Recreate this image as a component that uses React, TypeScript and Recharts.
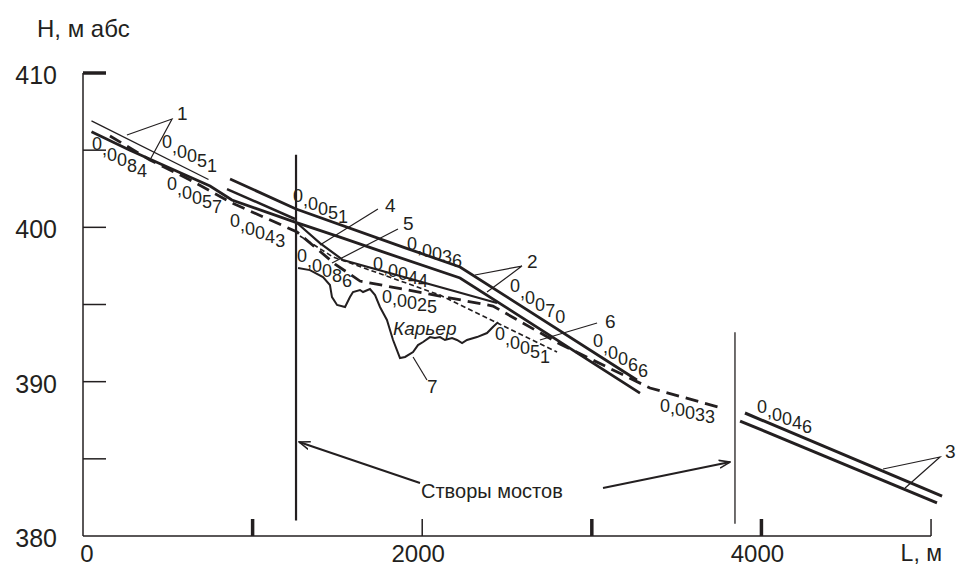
import React from 'react'
import { LineChart, Line, XAxis, YAxis, ReferenceLine, ReferenceDot } from 'recharts'

const INK = '#231f20'
const FONT = '"Liberation Sans", Arial, sans-serif'

// [distance L, m ; elevation H, m abs]
type Pt = [number, number]

const LINE_1_THIN: Pt[] = [[50, 406.9], [740, 403.1]]
const LINE_1_THICK: Pt[] = [
  [50, 406.2], [277, 405.0], [590, 403.45], [749, 402.68], [878, 401.77],
  [1250, 400.34], [1515, 399.37], [1751, 398.47], [2223, 396.72], [3284, 389.26],
]
const LINE_2_UPPER: Pt[] = [[867, 403.13], [1256, 401.19], [1887, 398.72], [2223, 397.43], [3266, 390.11]]
const LINE_GAP: Pt[] = [[849, 402.48], [1250, 400.54]]
const LINE_4: Pt[] = [[1262, 400.28], [1397, 398.98], [1533, 397.88], [2441, 395.1]]
const LINE_5: Pt[] = [[1279, 399.44], [1474, 398.08], [2105, 395.61], [2795, 391.92]]
const LINE_6: Pt[] = [
  [159, 405.92], [395, 404.36], [631, 403.07], [878, 401.58], [1262, 399.7],
  [1486, 397.62], [1633, 396.52], [2417, 394.9], [2812, 392.44], [3343, 389.59], [3768, 388.29],
]
const QUARRY: Pt[] = [
  [1268, 397.36], [1338, 397.23], [1415, 396.78], [1456, 396.26], [1468, 395.48], [1498, 394.97],
  [1545, 394.84], [1574, 395.48], [1592, 395.81], [1633, 395.94], [1651, 395.81], [1692, 396.0],
  [1722, 395.61], [1751, 394.84], [1792, 394.0], [1828, 392.7], [1851, 392.05], [1869, 391.53],
  [1899, 391.6], [1946, 391.92], [1975, 392.37], [2005, 392.57], [2046, 392.89], [2075, 392.83],
  [2105, 392.89], [2134, 392.7], [2176, 392.83], [2205, 392.7], [2235, 392.5], [2264, 392.7],
  [2323, 392.89], [2382, 393.15], [2417, 393.54], [2447, 393.86],
]
const LINE_3_UPPER: Pt[] = [[3903, 387.97], [5065, 382.59]]
const LINE_3_LOWER: Pt[] = [[3874, 387.45], [5035, 382.14]]

// bridge crossings (створы мостов)
const BRIDGE_1: Pt[] = [[1256, 404.7], [1256, 381.0]]
const BRIDGE_2: Pt[] = [[3844, 393.2], [3844, 380.8]]
const ARROW_LEFT: Pt[] = [[1987, 383.43], [1274, 386.09]]
const ARROW_RIGHT: Pt[] = [[3066, 383.11], [3815, 384.79]]

// leader lines for the curve numbers
const LEADERS: Pt[][] = [
  [[259, 405.98], [525, 407.02], [395, 404.36]],
  [[2311, 396.91], [2588, 397.49], [2382, 395.81]],
  [[4717, 384.34], [5053, 385.12], [4847, 383.11]],
  [[1739, 401.19], [1397, 398.85]],
  [[1857, 399.89], [1468, 397.69]],
  [[3031, 393.8], [2694, 392.7]],
  [[1946, 391.6], [2028, 390.11]],
]
const NUMBERS: [string, number, number][] = [
  ['1', 554, 406.95], ['2', 2618, 397.36], ['3', 5082, 385.05], ['4', 1781, 400.99],
  ['5', 1887, 399.8], ['6', 3078, 393.48], ['7', 2028, 389.26],
]

// slope values written along the profiles: text, L, H, drop per character
const SLOPES: [string, number, number, number][] = [
  ['0,0051', 466, 405.14, 4.8],
  ['0,0084', 53, 405.01, 5.4],
  ['0,0057', 495, 402.42, 4.6],
  ['0,0043', 867, 400.02, 4],
  ['0,0051', 1238, 401.64, 4.2],
  ['0,0036', 1910, 398.55, 3.4],
  ['0,0044', 1710, 397.23, 3.4],
  ['0,0086', 1262, 397.75, 5],
  ['0,0025', 1763, 395.1, 2],
  ['0,0051', 2429, 392.7, 4.6],
  ['0,0070', 2518, 395.81, 6.2],
  ['0,0066', 3007, 392.24, 6],
  ['0,0033', 3402, 388.03, 2.2],
  ['0,0046', 3974, 387.97, 4],
]

const X_TICKS = [0, 1000, 2000, 3000, 4000, 5000]
const X_LABELS = [0, 2000, 4000]
const X_BOLD = [1000, 3000, 4000]
const Y_TICKS = [380, 385, 390, 395, 400, 405, 410]
const Y_LABELS = [380, 390, 400, 410]

const series = (pts: Pt[]) => pts.map(([d, h]) => ({ d, h }))

const XTick = ({ x, y, payload }: any) => {
  const v = payload.value
  return (
    <g>
      {v !== 0 && (
        <line x1={x} x2={x} y1={y} y2={y - 17} stroke={INK} strokeWidth={X_BOLD.includes(v) ? 3.5 : 1.5} />
      )}
      {X_LABELS.includes(v) && (
        <text x={x + (v === 0 ? 4 : -4)} y={y + 26} textAnchor="middle" fontFamily={FONT} fontSize={24} fill={INK}>
          {v}
        </text>
      )}
    </g>
  )
}

const YTick = ({ x, y, payload }: any) => {
  const v = payload.value
  return (
    <g>
      {v !== 380 && (
        <line x1={x} x2={x + 23} y1={y} y2={y} stroke={INK} strokeWidth={v === 410 ? 3.5 : 1.5} />
      )}
      {Y_LABELS.includes(v) && (
        <text x={x - 26} y={y + 11} textAnchor="end" fontFamily={FONT} fontSize={25} fill={INK}>
          {v}
        </text>
      )}
    </g>
  )
}

const SlopeText = ({ cx, cy, text, step }: any) => (
  <text x={cx} y={cy} fontFamily={FONT} fontSize={18} fill={INK}>
    {text.split('').map((ch: string, i: number) => (
      <tspan key={i} dy={i === 0 ? 0 : step}>{ch}</tspan>
    ))}
  </text>
)

const PlainText = ({ cx, cy, text, size, italic }: any) => (
  <text x={cx} y={cy} fontFamily={FONT} fontSize={size} fontStyle={italic ? 'italic' : 'normal'} fill={INK}>
    {text}
  </text>
)

export default function App() {
  const solid = (pts: Pt[], w: number, key: string, extra: any = {}) => (
    <Line
      key={key}
      data={series(pts)}
      dataKey="h"
      type="linear"
      stroke={INK}
      strokeWidth={w}
      dot={false}
      activeDot={false}
      isAnimationActive={false}
      {...extra}
    />
  )

  return (
    <div style={{ position: 'absolute', left: 0, top: 0, width: 960, height: 567, background: '#fff' }}>
      <LineChart width={960} height={567} margin={{ top: 73, right: 12, bottom: 0, left: 23 }}>
        <XAxis
          type="number"
          dataKey="d"
          domain={[0, 5100]}
          ticks={X_TICKS}
          axisLine={false}
          tickLine={false}
          tickSize={0}
          tickMargin={0}
          height={31}
          tick={<XTick />}
          interval={0}
        />
        <YAxis
          type="number"
          domain={[380, 410]}
          ticks={Y_TICKS}
          axisLine={false}
          tickLine={false}
          tickSize={0}
          tickMargin={0}
          width={60}
          tick={<YTick />}
          interval={0}
        />
        <ReferenceLine segment={[{ x: 0, y: 380 }, { x: 0, y: 410 }]} stroke={INK} strokeWidth={1.5} />
        <ReferenceLine segment={[{ x: 0, y: 380 }, { x: 5000, y: 380 }]} stroke={INK} strokeWidth={1.5} />

        {solid(LINE_1_THIN, 1.3, 'l1t')}
        {solid(LINE_1_THICK, 2.8, 'l1')}
        {solid(LINE_2_UPPER, 2.8, 'l2')}
        {solid(LINE_GAP, 2.5, 'lg')}
        {solid(LINE_4, 2.2, 'l4')}
        {solid(LINE_5, 1.6, 'l5', { strokeDasharray: '5 3' })}
        {solid(LINE_6, 2.8, 'l6', { strokeDasharray: '13 7' })}
        {solid(QUARRY, 2, 'q', { strokeLinejoin: 'miter' })}
        {solid(LINE_3_UPPER, 3, 'l3u')}
        {solid(LINE_3_LOWER, 3, 'l3l')}
        {solid(BRIDGE_1, 2.2, 'b1')}
        {solid(BRIDGE_2, 1.3, 'b2')}
        {solid(ARROW_LEFT, 2, 'a1', { markerEnd: 'url(#arrowHead)' })}
        {solid(ARROW_RIGHT, 2, 'a2', { markerEnd: 'url(#arrowHead)' })}
        {LEADERS.map((pts, i) => solid(pts, 1.2, `ld${i}`))}

        {SLOPES.map(([t, d, h, step], i) => (
          <ReferenceDot key={`s${i}`} x={d} y={h} r={1} ifOverflow="visible"
            shape={(p: any) => <SlopeText cx={p.cx} cy={p.cy} text={t} step={step} />} />
        ))}
        {NUMBERS.map(([t, d, h]) => (
          <ReferenceDot key={`n${t}`} x={d} y={h} r={1} ifOverflow="visible"
            shape={(p: any) => <PlainText cx={p.cx} cy={p.cy} text={t} size={19} />} />
        ))}
        <ReferenceDot x={1828} y={393.05} r={1} ifOverflow="visible"
          shape={(p: any) => <PlainText cx={p.cx} cy={p.cy} text="Карьер" size={19} italic />} />
        <ReferenceDot x={1993} y={382.46} r={1} ifOverflow="visible"
          shape={(p: any) => <PlainText cx={p.cx} cy={p.cy} text="Створы мостов" size={20} />} />
      </LineChart>

      <svg width={960} height={567} style={{ position: 'absolute', left: 0, top: 0, pointerEvents: 'none' }}>
        <defs>
          <marker id="arrowHead" viewBox="0 0 12 10" refX={11} refY={5} markerWidth={12} markerHeight={10}
            markerUnits="userSpaceOnUse" orient="auto">
            <path d="M0,1 L11,5 L0,9" fill="none" stroke={INK} strokeWidth={1.6} />
          </marker>
        </defs>
        <text x={37} y={37} fontFamily={FONT} fontSize={24} fill={INK}>H, м абс</text>
        <text x={942} y={561} textAnchor="end" fontFamily={FONT} fontSize={23} fill={INK}>L, м</text>
      </svg>
    </div>
  )
}
